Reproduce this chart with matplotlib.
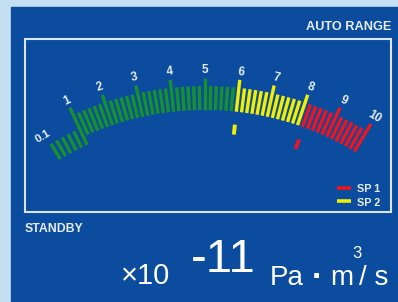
import numpy as np
import matplotlib
matplotlib.use("Agg")
from matplotlib import pyplot as plt
from matplotlib.patches import Rectangle

# gauge scale (linear 0..10, first decade shown as "0.1")
major_ticks = [1, 2, 3, 4, 5, 6, 7, 8, 9, 10]
major_labels = ['1', '2', '3', '4', '5', '6', '7', '8', '9', '10']
low_label = '0.1'
bars_per_unit = 6
low_bars = [0.0, 0.2, 0.4, 0.6, 0.8]

# colour zones: green < 6, yellow 6..8, red > 8
zone_limits = [6, 8]
zone_colors = ['#17902e', '#f2f000', '#ec1520']

# set points
sp_names = ['SP 1', 'SP 2']
sp_values = [8.2, 6.0]
sp_colors = ['#ec1520', '#f2f000']

# readout
status_text = 'STANDBY'
range_text = 'AUTO RANGE'
mantissa = '\u00d710'
exponent = '-11'
unit_parts = ['Pa', '\u00b7', 'm', '3', '/ s']

panel = '#0b4c9f'
light = '#c6e0f3'
txt = '#e6ecf3'

fig = plt.figure(figsize=(3.98, 3.02), dpi=100, facecolor=light)
ax = fig.add_axes([0, 0, 1, 1])
ax.set_xlim(0, 398)
ax.set_ylim(302, 0)
ax.axis('off')

ax.add_patch(Rectangle((11, 7), 400, 300, color=panel, zorder=0))
ax.add_patch(Rectangle((25, 39), 366, 173, fill=False, edgecolor='#d9e5f2', lw=1.5, zorder=1))

cx, cy = 205, 400
deg_per_unit = 6.2


def pt(v, r):
    a = np.radians((v - 5) * deg_per_unit)
    return cx + r * np.sin(a), cy - r * np.cos(a)


def color_of(v):
    if v < zone_limits[0] - 1e-9:
        return zone_colors[0]
    if v <= zone_limits[1] + 1e-9:
        return zone_colors[1]
    return zone_colors[2]


def bar(v, r0, r1, c, lw=2.4):
    x0, y0 = pt(v, r0)
    x1, y1 = pt(v, r1)
    ax.plot([x0, x1], [y0, y1], color=c, lw=lw, solid_capstyle='butt', zorder=3)


for v in low_bars:
    bar(v, 281, 299, zone_colors[0])

steps = np.arange(bars_per_unit, 10 * bars_per_unit + 1) / bars_per_unit
for v in steps:
    is_major = abs(v - round(v)) < 1e-6
    if is_major and round(v) == 1:
        bar(v, 281, 322, color_of(v))
    elif is_major:
        bar(v, 290, 322, color_of(v))
    else:
        bar(v, 290, 314, color_of(v))

font = 'Liberation Sans'
for v, lab in zip(major_ticks, major_labels):
    x, y = pt(v, 330)
    ax.text(x, y, lab, color=txt, fontsize=8.5, fontweight='bold', family=font,
            ha='center', va='center', rotation=-(v - 5) * deg_per_unit, zorder=4)
x, y = pt(-0.1, 310)
ax.text(x, y, low_label, color=txt, fontsize=8.2, fontweight='bold', family=font,
        ha='center', va='center', rotation=31, zorder=4)

for v, c in zip(sp_values, sp_colors):
    bar(v, 267, 277, c, lw=2.8)

for i, (name, c) in enumerate(zip(sp_names, sp_colors)):
    yy = 188 + 13 * i
    ax.plot([337, 351], [yy, yy], color=c, lw=2.6, solid_capstyle='butt', zorder=3)
    ax.text(357, yy + 4.5, name, color=txt, fontsize=7.8, fontweight='bold', family=font,
            ha='left', va='baseline', zorder=4)

ax.text(391, 30.5, range_text, color=txt, fontsize=9.2, fontweight='bold', family=font,
        ha='right', va='baseline')
ax.text(25, 231.5, status_text, color=txt, fontsize=8.8, fontweight='bold', family=font,
        ha='left', va='baseline')

ax.text(121, 284.5, mantissa, color='white', fontsize=21, family=font,
        ha='left', va='baseline')
ax.text(191, 271.5, exponent, color='white', fontsize=34,
        family=['Liberation Sans Narrow', 'Liberation Sans'], ha='left', va='baseline')

# unit "Pa · m³/ s" laid out piece by piece
ax.text(270, 285, unit_parts[0], color='white', fontsize=20, family=font, ha='left', va='baseline')
ax.text(317, 287, unit_parts[1], color='white', fontsize=24, fontweight='bold', family=font,
        ha='center', va='baseline')
ax.text(330, 285, unit_parts[2], color='white', fontsize=20, family=font, ha='left', va='baseline')
ax.text(352, 258, unit_parts[3], color='white', fontsize=12, family=font, ha='left', va='baseline')
ax.text(359, 285, unit_parts[4], color='white', fontsize=20, family=font, ha='left', va='baseline')

fig.savefig('out.png', dpi=100, facecolor=light)
